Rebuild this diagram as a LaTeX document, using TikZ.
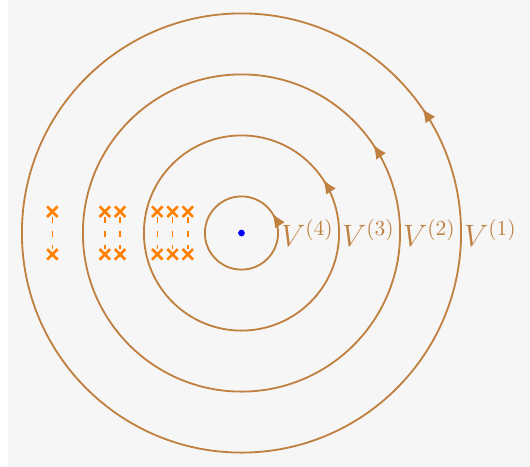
\documentclass[tikz,border=0pt]{standalone}
\usetikzlibrary{arrows.meta,decorations.markings,shapes.misc}
\definecolor{bgcol}{HTML}{F6F6F6}
\begin{document}
\begin{tikzpicture}[
  ring/.style={brown, line width=0.85pt, postaction={decorate},
    decoration={markings, mark=at position #1 with {\arrow{Latex[length=6.5pt,width=5.5pt]}}}},
  lbl/.style={brown, anchor=west, font=\Large, inner sep=1.2pt},
  xm/.style={cross out, draw=orange, line width=1.2pt, minimum size=0.13cm, inner sep=0pt},
  dl/.style={orange, line width=0.7pt, dash pattern=on 3pt off 3.5pt}
]
\useasboundingbox (-3.959,-3.836) rectangle (4.730,3.820);
\fill[bgcol] (-3.83,-3.836) rectangle (4.730,3.820);
\coordinate (o) at (0,0);
\draw[ring=0.09] (o) circle (0.6);
\draw[ring=0.092] (o) circle (1.6);
\draw[ring=0.094] (o) circle (2.6);
\draw[ring=0.096] (o) circle (3.6);
\fill[blue] (o) circle (0.055);
\node[lbl] (l4) at (0.6,0) {$V^{(4)}$};
\node[lbl] (l3) at (1.6,0) {$V^{(3)}$};
\node[lbl] (l2) at (2.6,0) {$V^{(2)}$};
\node[lbl] (l1) at (3.6,0) {$V^{(1)}$};
\foreach \n/\x in {a/-3.1, b/-2.24, c/-1.99, d/-1.38, e/-1.13, f/-0.88} {
  \node[xm] (\n t) at (\x,0.35) {};
  \node[xm] (\n b) at (\x,-0.35) {};
  \draw[dl] (\n t) -- (\n b);
}
\end{tikzpicture}
\end{document}
